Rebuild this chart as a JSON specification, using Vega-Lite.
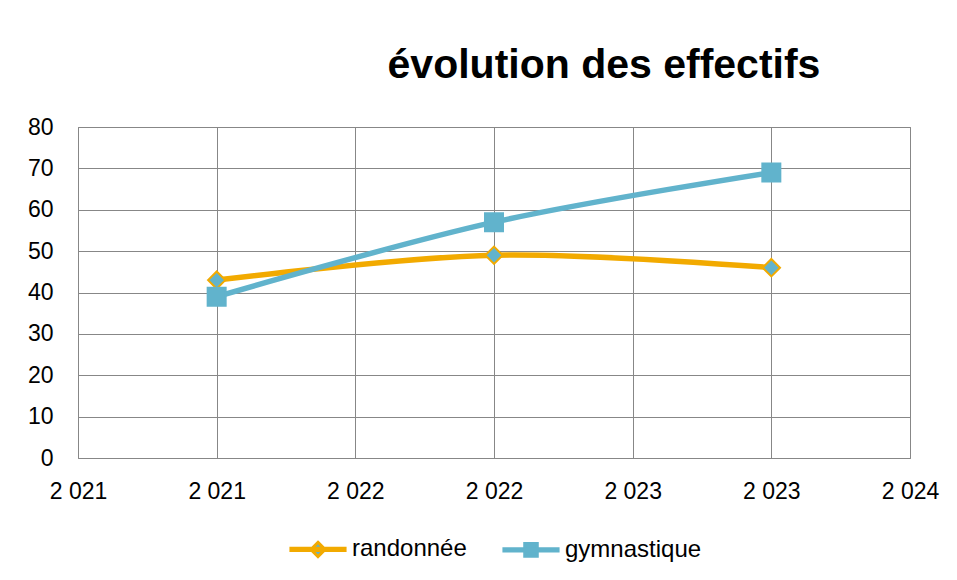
{
  "$schema": "https://vega.github.io/schema/vega-lite/v6.json",
  "autosize": {"type": "none"},
  "width": 832,
  "height": 331,
  "padding": {"left": 78, "top": 127, "right": 47, "bottom": 122},
  "background": "white",
  "config": {
    "font": "Liberation Sans",
    "view": {"stroke": "#878787", "strokeWidth": 1},
    "axis": {
      "grid": true,
      "gridColor": "#878787",
      "gridOpacity": 1,
      "gridWidth": 1,
      "domain": false,
      "ticks": false,
      "labelFont": "Liberation Sans",
      "labelFontSize": 23,
      "labelColor": "#000000",
      "title": null
    }
  },
  "title": {
    "text": "évolution des effectifs",
    "font": "Liberation Sans",
    "fontSize": 41,
    "fontWeight": "bold",
    "color": "#000000",
    "anchor": "middle",
    "dx": 110,
    "baseline": "alphabetic",
    "offset": -3
  },
  "data": {
    "values": [
      {"annee": 2021, "serie": "randonnée", "effectif": 43},
      {"annee": 2022, "serie": "randonnée", "effectif": 49},
      {"annee": 2023, "serie": "randonnée", "effectif": 46},
      {"annee": 2021, "serie": "gymnastique", "effectif": 39},
      {"annee": 2022, "serie": "gymnastique", "effectif": 57},
      {"annee": 2023, "serie": "gymnastique", "effectif": 69}
    ]
  },
  "encoding": {
    "x": {
      "field": "annee",
      "type": "quantitative",
      "scale": {"domain": [2020.5, 2023.5], "nice": false, "zero": false},
      "axis": {
        "values": [2020.5, 2021, 2021.5, 2022, 2022.5, 2023, 2023.5],
        "labelExpr": "slice(format(round(datum.value),'d'),0,1) + ' ' + slice(format(round(datum.value),'d'),1)",
        "labelPadding": 22,
        "labelFlush": false,
        "labelOverlap": false
      }
    },
    "y": {
      "field": "effectif",
      "type": "quantitative",
      "scale": {"domain": [0, 80], "nice": false},
      "axis": {
        "values": [0, 10, 20, 30, 40, 50, 60, 70, 80],
        "labelPadding": 25,
        "labelFlush": false,
        "labelOverlap": false
      }
    }
  },
  "layer": [
    {
      "mark": {"type": "line", "interpolate": "catmull-rom", "strokeWidth": 5.5, "strokeCap": "round"},
      "encoding": {
        "stroke": {
          "field": "serie",
          "type": "nominal",
          "scale": {"domain": ["randonnée", "gymnastique"], "range": ["#F2AA00", "#61B3CC"]},
          "legend": null
        }
      }
    },
    {
      "mark": {"type": "point", "filled": true, "strokeWidth": 2, "opacity": 1},
      "encoding": {
        "shape": {
          "field": "serie",
          "type": "nominal",
          "scale": {"domain": ["randonnée", "gymnastique"], "range": ["diamond", "square"]},
          "legend": null
        },
        "fill": {
          "field": "serie",
          "type": "nominal",
          "scale": {"domain": ["randonnée", "gymnastique"], "range": ["#61B3CC", "#61B3CC"]},
          "legend": null
        },
        "stroke": {
          "field": "serie",
          "type": "nominal",
          "scale": {"domain": ["randonnée", "gymnastique"], "range": ["#F2AA00", "#61B3CC"]},
          "legend": null
        },
        "size": {
          "field": "serie",
          "type": "nominal",
          "scale": {"domain": ["randonnée", "gymnastique"], "range": [300, 324]},
          "legend": null
        }
      }
    },
    {
      "transform": [{"filter": "false"}],
      "mark": {"type": "point", "filled": true, "strokeWidth": 3, "opacity": 1, "size": 3249},
      "encoding": {
        "shape": {
          "field": "serie",
          "type": "nominal",
          "scale": {
            "domain": ["randonnée", "gymnastique"],
            "range": [
              "M-0.95,-0.04H0.95V0.04H-0.95Z M0,-0.25L0.25,0L0,0.25L-0.25,0Z",
              "M-0.95,-0.04H0.95V0.04H-0.95Z M-0.22,-0.22H0.22V0.22H-0.22Z"
            ]
          },
          "legend": {
            "orient": "none",
            "legendX": 210,
            "legendY": 392,
            "direction": "horizontal",
            "title": null,
            "labelFont": "Liberation Sans",
            "labelFontSize": 24,
            "labelColor": "#000000",
            "labelOffset": 4,
            "columnPadding": 30,
            "symbolSize": 3249,
            "symbolStrokeWidth": 3,
            "symbolOpacity": 1
          }
        },
        "fill": {
          "field": "serie",
          "type": "nominal",
          "scale": {"domain": ["randonnée", "gymnastique"], "range": ["#61B3CC", "#61B3CC"]},
          "legend": {
            "orient": "none",
            "legendX": 210,
            "legendY": 392,
            "direction": "horizontal",
            "title": null,
            "labelFont": "Liberation Sans",
            "labelFontSize": 24,
            "labelColor": "#000000",
            "labelOffset": 4,
            "columnPadding": 30,
            "symbolSize": 3249,
            "symbolStrokeWidth": 3,
            "symbolOpacity": 1
          }
        },
        "stroke": {
          "field": "serie",
          "type": "nominal",
          "scale": {"domain": ["randonnée", "gymnastique"], "range": ["#F2AA00", "#61B3CC"]},
          "legend": {
            "orient": "none",
            "legendX": 210,
            "legendY": 392,
            "direction": "horizontal",
            "title": null,
            "labelFont": "Liberation Sans",
            "labelFontSize": 24,
            "labelColor": "#000000",
            "labelOffset": 4,
            "columnPadding": 30,
            "symbolSize": 3249,
            "symbolStrokeWidth": 3,
            "symbolOpacity": 1
          }
        }
      }
    }
  ],
  "resolve": {
    "scale": {"shape": "independent", "fill": "independent", "stroke": "independent", "size": "independent"},
    "legend": {"shape": "independent", "fill": "independent", "stroke": "independent", "size": "independent"}
  }
}
